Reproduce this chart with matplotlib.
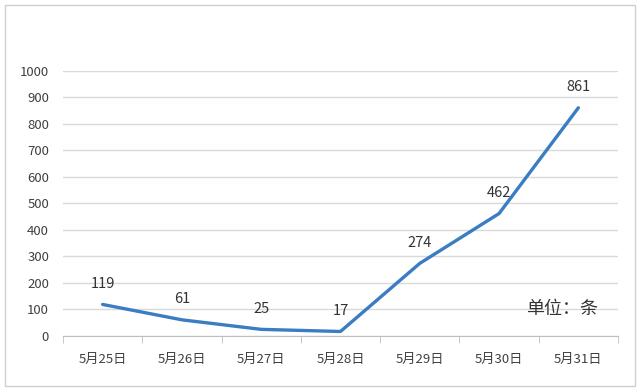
import matplotlib.pyplot as plt
from matplotlib.patches import Rectangle

plt.rcParams["font.family"] = ["Noto Sans CJK SC", "DejaVu Sans"]

# Data
dates = ["5月25日", "5月26日", "5月27日", "5月28日", "5月29日", "5月30日", "5月31日"]
counts = [119, 61, 25, 17, 274, 462, 861]
y_ticks = [0, 100, 200, 300, 400, 500, 600, 700, 800, 900, 1000]
unit_label = "单位：条"

LINE_COLOR = "#3a7dc2"
TEXT_COLOR = "#404040"
GRID_COLOR = "#d9d9d9"

fig = plt.figure(figsize=(6.4, 3.9), dpi=100)
ax = fig.add_axes([0.0984, 0.1385, 0.8672, 0.6795])

x = list(range(len(dates)))
ax.plot(x, counts, color=LINE_COLOR, linewidth=2.4, solid_capstyle="round",
        solid_joinstyle="round", zorder=3)

for xi, val in zip(x, counts):
    ax.annotate(str(val), xy=(xi, val), xytext=(0, 15), textcoords="offset points",
                ha="center", va="center", fontsize=10.5, color="#333333")

ax.set_xlim(-0.5, len(dates) - 0.5)
ax.set_ylim(0, 1000)
ax.set_yticks(y_ticks)
ax.set_yticklabels([str(t) for t in y_ticks], fontsize=9.5, color=TEXT_COLOR)
ax.grid(axis="y", color=GRID_COLOR, linewidth=1.0)
ax.set_axisbelow(True)

# category labels centred, ticks at category boundaries
ax.set_xticks(x)
ax.set_xticklabels(dates, fontsize=9.5, color=TEXT_COLOR)
ax.tick_params(axis="x", which="major", length=0, pad=12)
ax.set_xticks([i - 0.5 for i in range(len(dates) + 1)], minor=True)
ax.tick_params(axis="x", which="minor", length=5, color="#bfbfbf", direction="out")
ax.tick_params(axis="y", length=0, pad=10)

for side in ["top", "right", "left"]:
    ax.spines[side].set_visible(False)
ax.spines["bottom"].set_color("#bfbfbf")

ax.text(6.25, 100, unit_label, ha="right", va="center", fontsize=13,
        color="#333333")

fig.patches.append(Rectangle((0.008, 0.01), 0.984, 0.978, transform=fig.transFigure,
                             fill=False, edgecolor="#d0d0d0", linewidth=1.0))

fig.savefig("out.png", dpi=100)
